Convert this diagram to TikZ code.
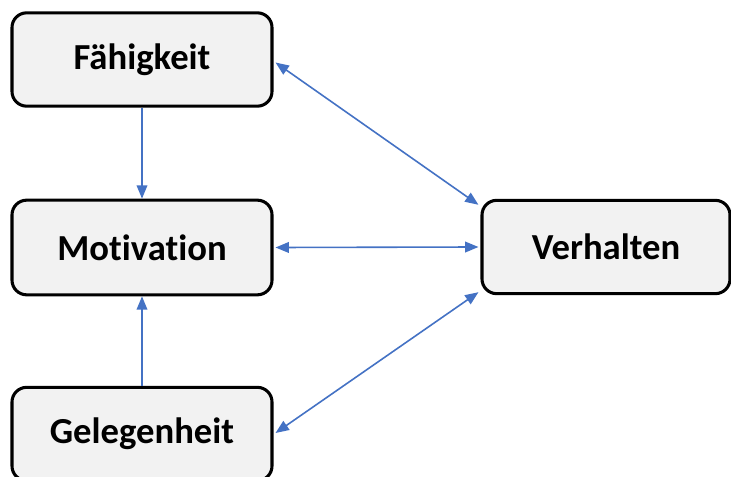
\documentclass[tikz,border=0pt]{standalone}
\usepackage{fontspec}
\setmainfont[Ligatures=NoCommon]{Carlito}
\usetikzlibrary{arrows.meta,calc}
\definecolor{boxfill}{HTML}{F2F2F2}
\definecolor{linkblue}{HTML}{4472C4}
\tikzset{
  factor/.style={draw=black, line width=2.3pt, fill=boxfill, rounded corners=11pt,
    minimum width=195pt, minimum height=70pt, inner sep=0pt,
    font=\fontsize{27.5}{31}\selectfont\bfseries},
  link/.style={draw=linkblue, line width=1.2pt,
    -{Triangle[length=10pt,width=8pt]}},
  duallink/.style={link, {Triangle[length=10pt,width=8pt]}-{Triangle[length=10pt,width=8pt]}}
}
\begin{document}
\begin{tikzpicture}[x=0.75pt,y=-0.75pt]
\useasboundingbox (0,0) rectangle (731,477);
\node[factor] (F) at (142,59.5) {Fähigkeit};
\node[factor, minimum height=71pt] (M) at (142,247.5) {Motivation};
\node[factor] (G) at (142,434) {Gelegenheit};
\node[factor, minimum width=186pt] (V) at (606,247) {Verhalten};
\draw[link] (F.south) -- (M.north);
\draw[link] (G.north) -- (M.south);
\draw[duallink] ($(F.east)+(2,3)$) -- ($(V.north west)+(-2,6)$);
\draw[duallink] ($(M.east)+(2,0)$) -- ($(V.west)+(-2,0)$);
\draw[duallink] ($(G.east)+(2,-1)$) -- ($(V.south west)+(-2,-3)$);
\end{tikzpicture}
\end{document}
